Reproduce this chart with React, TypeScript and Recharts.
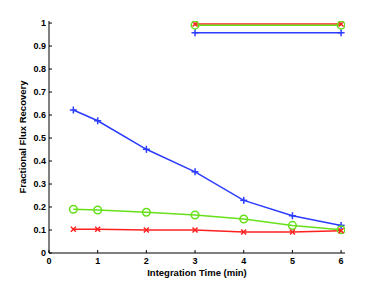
import React from "react";
import { LineChart, Line, XAxis, YAxis } from "recharts";

const times = [0.5, 1, 2, 3, 4, 5, 6];
const blueValues = [0.622, 0.575, 0.451, 0.353, 0.229, 0.162, 0.12];
const greenValues = [0.19, 0.187, 0.177, 0.165, 0.148, 0.12, 0.101];
const redValues = [0.103, 0.103, 0.1, 0.1, 0.091, 0.091, 0.097];
const topTimes = [3, 6];
const blueTop = [0.958, 0.958];
const greenTop = [0.991, 0.991];
const redTop = [0.996, 0.996];
const xTicks = [0, 1, 2, 3, 4, 5, 6];
const yTicks = [0, 0.1, 0.2, 0.3, 0.4, 0.5, 0.6, 0.7, 0.8, 0.9, 1];

const BLUE = "#2b3bff";
const GREEN = "#66e01a";
const RED = "#ff2020";

const mk = (xs: number[], ys: number[]) => xs.map((x, i) => ({ x, y: ys[i] }));

const blueData = mk(times, blueValues);
const greenData = mk(times, greenValues);
const redData = mk(times, redValues);
const blueTopData = mk(topTimes, blueTop);
const greenTopData = mk(topTimes, greenTop);
const redTopData = mk(topTimes, redTop);

const PlusDot = (props: any) => {
  const { cx, cy } = props;
  if (cx == null || cy == null) return null;
  const s = 3.5;
  return (
    <g stroke={BLUE} strokeWidth={1.5}>
      <line x1={cx - s} y1={cy} x2={cx + s} y2={cy} />
      <line x1={cx} y1={cy - s} x2={cx} y2={cy + s} />
    </g>
  );
};

const CircleDot = (props: any) => {
  const { cx, cy } = props;
  if (cx == null || cy == null) return null;
  return <circle cx={cx} cy={cy} r={3.8} fill="none" stroke={GREEN} strokeWidth={1.5} />;
};

const XDot = (props: any) => {
  const { cx, cy } = props;
  if (cx == null || cy == null) return null;
  const s = 2.5;
  return (
    <g stroke={RED} strokeWidth={1.5}>
      <line x1={cx - s} y1={cy - s} x2={cx + s} y2={cy + s} />
      <line x1={cx - s} y1={cy + s} x2={cx + s} y2={cy - s} />
    </g>
  );
};

const tickFont = { fontFamily: "Liberation Sans, Arial, sans-serif", fontSize: 9, fontWeight: 700, fill: "#000" };

export default function App() {
  return (
    <div style={{ position: "absolute", left: 0, top: 0, width: 382, height: 286, background: "#fff" }}>
      <LineChart width={382} height={286} margin={{ top: 21, right: 37, bottom: 0, left: 9 }}>
        <XAxis
          xAxisId="b"
          type="number"
          dataKey="x"
          domain={[0, 6.08]}
          ticks={xTicks}
          allowDataOverflow
          height={33}
          tickSize={-3}
          tickMargin={8}
          stroke="#000"
          tick={tickFont}
          label={{ value: "Integration Time (min)", position: "insideBottom", offset: 10, style: { ...tickFont, fontSize: 9.5 } }}
        />
        <XAxis
          xAxisId="t"
          orientation="top"
          type="number"
          dataKey="x"
          domain={[0, 6.08]}
          ticks={xTicks}
          allowDataOverflow
          height={0}
          tickSize={-3}
          tick={false}
          stroke="#000"
        />
        <YAxis
          yAxisId="l"
          type="number"
          domain={[0, 1.009]}
          ticks={yTicks}
          allowDataOverflow
          width={40}
          tickSize={-3}
          tickMargin={6}
          stroke="#000"
          tick={tickFont}
          label={{ value: "Fractional Flux Recovery", angle: -90, position: "insideLeft", offset: 14, style: { ...tickFont, fontSize: 9.5, textAnchor: "middle" } }}
        />
        <YAxis
          yAxisId="r"
          orientation="right"
          type="number"
          domain={[0, 1.009]}
          ticks={yTicks}
          allowDataOverflow
          width={0}
          tickSize={-3}
          tick={false}
          stroke="#000"
        />
        <Line xAxisId="b" yAxisId="l" data={blueData} dataKey="y" stroke={BLUE} strokeWidth={1.5} dot={<PlusDot />} activeDot={false} isAnimationActive={false} />
        <Line xAxisId="b" yAxisId="l" data={greenData} dataKey="y" stroke={GREEN} strokeWidth={1.5} dot={<CircleDot />} activeDot={false} isAnimationActive={false} />
        <Line xAxisId="b" yAxisId="l" data={redData} dataKey="y" stroke={RED} strokeWidth={1.5} dot={<XDot />} activeDot={false} isAnimationActive={false} />
        <Line xAxisId="b" yAxisId="l" data={blueTopData} dataKey="y" stroke={BLUE} strokeWidth={1.5} dot={<PlusDot />} activeDot={false} isAnimationActive={false} />
        <Line xAxisId="b" yAxisId="l" data={redTopData} dataKey="y" stroke={RED} strokeWidth={1.5} dot={<XDot />} activeDot={false} isAnimationActive={false} />
        <Line xAxisId="b" yAxisId="l" data={greenTopData} dataKey="y" stroke={GREEN} strokeWidth={1.5} dot={<CircleDot />} activeDot={false} isAnimationActive={false} />
      </LineChart>
    </div>
  );
}
